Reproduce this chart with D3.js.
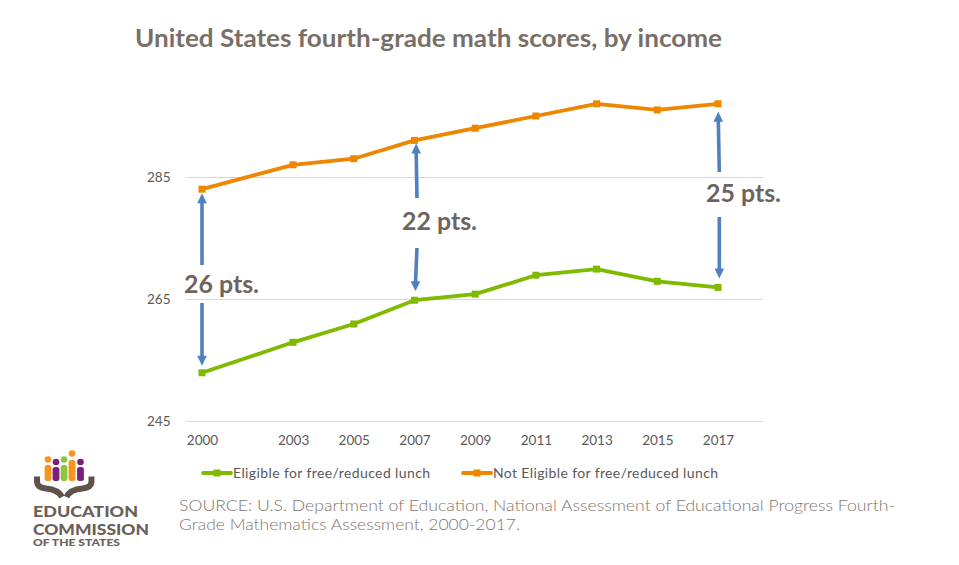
<!DOCTYPE html>
<html lang="en">
<head>
<meta charset="UTF-8">
<title>United States fourth-grade math scores, by income</title>
<style>
    body { margin: 0; padding: 0; background: #fff; overflow: hidden; }
    svg { display: block; }
    text { font-family: Lato, "Open Sans", sans-serif; }
</style>
</head>
<body>
<svg id="chart" width="959" height="565"></svg>
<script src="https://cdn.jsdelivr.net/npm/d3@7"></script>
<script>
    const years = [2000, 2003, 2005, 2007, 2009, 2011, 2013, 2015, 2017];
    const eligible = [252.9, 257.9, 260.9, 264.8, 265.8, 268.9, 269.9, 267.9, 266.9];
    const notEligible = [283, 287, 288, 291, 293, 295, 297, 296, 297];
    const scoreTicks = [245, 265, 285];
    const gapYears = [2000, 2007, 2017];
    const gapLabels = ["26 pts.", "22 pts.", "25 pts."];

    const GREEN = "#7fba00", ORANGE = "#ee8600", BROWN = "#6f645d", BLUE = "#4f81bd";

    const svg = d3.select("#chart");
    const x = d3.scaleLinear().domain([2000, 2017]).range([202, 718]);
    const y = d3.scaleLinear().domain([245, 285]).range([421, 177]);

    // gridlines and axis labels
    const yAxis = d3.axisLeft(y).tickValues(scoreTicks).tickSize(-577).tickPadding(13);
    const gy = svg.append("g").attr("transform", "translate(186,0)").call(yAxis);
    gy.select(".domain").remove();
    gy.selectAll("line").attr("stroke", "#d9d9d9");
    gy.selectAll("text").attr("fill", "#595959").style("font-size", "13.5px").attr("text-anchor", "start").attr("x", -39);

    const xAxis = d3.axisBottom(x).tickValues(years).tickFormat(d3.format("d")).tickSize(0).tickPadding(14);
    const gx = svg.append("g").attr("transform", "translate(0,421)").call(xAxis);
    gx.select(".domain").remove();
    gx.selectAll("text").attr("fill", "#595959").style("font-size", "13.5px");

    // gap arrows sit under the lines, offsets in px from the points they point to
    const arrowLayout = [
        {upFrom: [0, 265], upTip: [0, 4], downFrom: [0, 303], downTip: [0, 7], labelX: 221.5, labelY: 293},
        {upFrom: [2.5, 198], upTip: [1.7, 3], downFrom: [2.5, 248], downTip: [1, 9], labelX: 439.5, labelY: 229.5},
        {upFrom: [1.3, 172], upTip: [0.3, 8], downFrom: [1.3, 217], downTip: [1.3, 9], labelX: 743.5, labelY: 202}
    ];
    function arrow(x0, y0, x1, y1) {
        const dir = y1 > y0 ? 1 : -1;
        svg.append("line").attr("x1", x0).attr("y1", y0).attr("x2", x1).attr("y2", y1 - dir * 8)
            .attr("stroke", BLUE).attr("stroke-width", 3.6);
        svg.append("path")
            .attr("d", `M${x1} ${y1} L${x1 - 4.8} ${y1 - dir * 10} L${x1 + 4.8} ${y1 - dir * 10} Z`)
            .attr("fill", BLUE);
    }
    gapYears.forEach((yr, k) => {
        const i = years.indexOf(yr), px = x(yr), a = arrowLayout[k];
        arrow(px + a.upFrom[0], a.upFrom[1], px + a.upTip[0], y(notEligible[i]) + a.upTip[1]);
        arrow(px + a.downFrom[0], a.downFrom[1], px + a.downTip[0], y(eligible[i]) - a.downTip[1]);
        svg.append("text").text(gapLabels[k])
            .attr("x", a.labelX).attr("y", a.labelY).attr("text-anchor", "middle")
            .attr("textLength", 75).attr("lengthAdjust", "spacingAndGlyphs")
            .attr("fill", BROWN).style("font-size", "24px").style("font-weight", 700);
    });

    // score lines
    const line = d3.line().x((d, i) => x(years[i])).y(d => y(d));
    function drawSeries(values, color) {
        svg.append("path").attr("d", line(values)).attr("fill", "none")
            .attr("stroke", color).attr("stroke-width", 3.8).attr("stroke-linejoin", "round");
        svg.append("g").selectAll("rect").data(values).enter().append("rect")
            .attr("x", (d, i) => x(years[i]) - 3.5)
            .attr("y", d => y(d) - 3.5)
            .attr("width", 7).attr("height", 7).attr("fill", color);
    }
    drawSeries(eligible, GREEN);
    drawSeries(notEligible, ORANGE);

    // title
    svg.append("text").text("United States fourth-grade math scores, by income")
        .attr("x", 135).attr("y", 47).attr("textLength", 587).attr("lengthAdjust", "spacingAndGlyphs")
        .attr("fill", "#7a6f68").style("font-size", "24px").style("font-weight", 700);

    // legend
    const legendItems = [
        {name: "Eligible for free/reduced lunch", color: GREEN, x0: 203, w: 197},
        {name: "Not Eligible for free/reduced lunch", color: ORANGE, x0: 463, w: 225}
    ];
    legendItems.forEach(d => {
        svg.append("line").attr("x1", d.x0).attr("x2", d.x0 + 28).attr("y1", 473).attr("y2", 473)
            .attr("stroke", d.color).attr("stroke-width", 3.8).attr("stroke-linecap", "round");
        svg.append("rect").attr("x", d.x0 + 10.5).attr("y", 469.5).attr("width", 7).attr("height", 7).attr("fill", d.color);
        svg.append("text").text(d.name).attr("x", d.x0 + 30).attr("y", 478)
            .attr("textLength", d.w).attr("fill", "#595959").style("font-size", "14px");
    });

    // source note
    const sourceLines = [
        {t: "SOURCE: U.S. Department of Education, National Assessment of Educational Progress Fourth-", y: 511, w: 716},
        {t: "Grade Mathematics Assessment, 2000-2017.", y: 530, w: 341}
    ];
    sourceLines.forEach(d => {
        svg.append("text").text(d.t).attr("x", 179).attr("y", d.y)
            .attr("textLength", d.w).attr("lengthAdjust", "spacingAndGlyphs")
            .attr("fill", "#7f756f").style("font-size", "16px").style("font-weight", 300);
    });

    // logo
    const logo = svg.append("g");
    const people = [
        {cx: 48, head: 459.5, top: 465, color: "#f7941d"},
        {cx: 56, head: 462, top: 467, color: "#7b1f7c"},
        {cx: 64, head: 459.5, top: 465, color: "#8cc63f"},
        {cx: 72, head: 453.5, top: 460, color: "#f7941d"},
        {cx: 80.5, head: 462, top: 467, color: "#7b1f7c"}
    ];
    people.forEach(p => {
        logo.append("circle").attr("cx", p.cx).attr("cy", p.head).attr("r", 3.3).attr("fill", p.color);
        logo.append("rect").attr("x", p.cx - 3.4).attr("y", p.top).attr("width", 6.8)
            .attr("height", 481 - p.top).attr("rx", 2.5).attr("fill", p.color);
    });
    logo.append("path").attr("d", "M37 476.5 V482 Q37.5 487.5 46 488.5 Q58 489.5 62 497")
        .attr("fill", "none").attr("stroke", "#5f524c").attr("stroke-width", 6);
    logo.append("path").attr("d", "M91.5 476.5 V482 Q91 487.5 82.5 488.5 Q70 489.5 66.5 497")
        .attr("fill", "none").attr("stroke", "#5f524c").attr("stroke-width", 6);
    const logoLines = [
        {t: "EDUCATION", y: 517, w: 105, size: 14.2},
        {t: "COMMISSION", y: 534.5, w: 116, size: 14.2},
        {t: "OF THE STATES", y: 546, w: 87, size: 8.5}
    ];
    logoLines.forEach(d => {
        logo.append("text").text(d.t).attr("x", 33).attr("y", d.y)
            .attr("textLength", d.w).attr("lengthAdjust", "spacingAndGlyphs")
            .attr("fill", "#6b5f58").style("font-size", d.size + "px").style("font-weight", 900);
    });
</script>
</body>
</html>
